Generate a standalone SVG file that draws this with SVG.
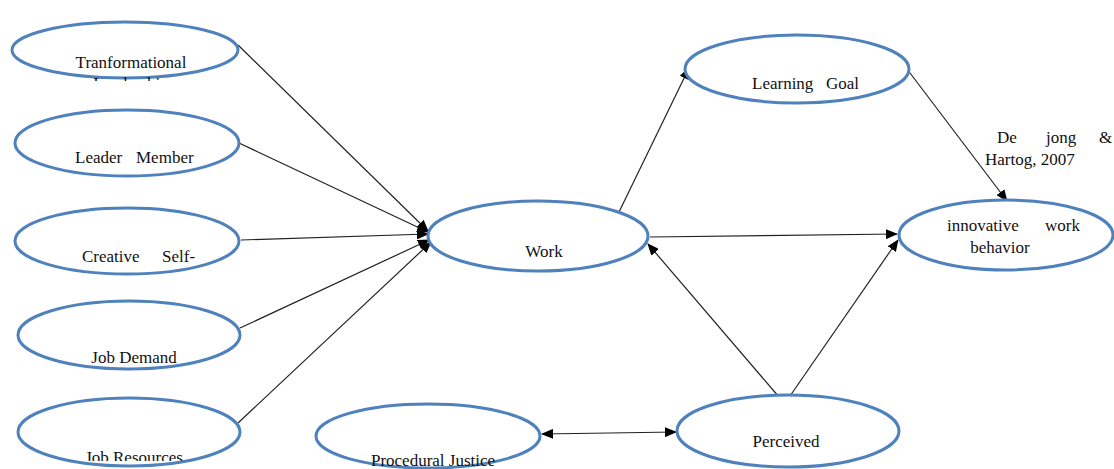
<svg xmlns="http://www.w3.org/2000/svg" width="1114" height="469" viewBox="0 0 1114 469">
<style>
.node ellipse{fill:#fff;stroke:#4F81BD;stroke-width:3}
.t{font-family:"Liberation Serif","Times New Roman",serif;font-size:17px;fill:#111}
.c line{stroke:#222;stroke-width:1.2;fill:none}
</style>
<defs>
<marker id="ah" markerWidth="12" markerHeight="10" refX="11" refY="5" orient="auto" markerUnits="userSpaceOnUse">
<path d="M0,0 L12,5 L0,10 Z" fill="#000"/>
</marker>
<marker id="as" markerWidth="12" markerHeight="10" refX="1" refY="5" orient="auto" markerUnits="userSpaceOnUse">
<path d="M12,0 L0,5 L12,10 Z" fill="#000"/>
</marker>
<clipPath id="clipBottom"><rect x="0" y="0" width="1114" height="461"/></clipPath>
<clipPath id="clipTF"><rect x="0" y="0" width="300" height="81"/></clipPath>
</defs>
<rect width="1114" height="469" fill="#fff"/>
<g class="c" id="connectors">
<line x1="238" y1="45" x2="428" y2="231" marker-end="url(#ah)"/>
<line x1="239" y1="143" x2="428" y2="232" marker-end="url(#ah)"/>
<line x1="241" y1="240" x2="428" y2="234" marker-end="url(#ah)"/>
<line x1="240" y1="328" x2="429" y2="240" marker-end="url(#ah)"/>
<line x1="238" y1="423" x2="431" y2="242" marker-end="url(#ah)"/>
<line x1="619" y1="212" x2="689" y2="68" marker-end="url(#ah)"/>
<line x1="650" y1="237" x2="897" y2="234" marker-end="url(#ah)"/>
<line x1="907" y1="69" x2="1007" y2="201" marker-end="url(#ah)"/>
<line x1="779" y1="397" x2="648" y2="244" marker-end="url(#ah)"/>
<line x1="790" y1="396" x2="898" y2="240" marker-end="url(#ah)"/>
<line x1="542" y1="434" x2="676" y2="432" marker-start="url(#as)" marker-end="url(#ah)"/>
</g>
<g class="node" id="n-tl"><ellipse cx="125" cy="50" rx="113" ry="28"/><g clip-path="url(#clipTF)"><text class="t" x="131" y="68" text-anchor="middle">Tranformational</text><text class="t" x="131" y="89" text-anchor="middle">Leadership</text></g></g>
<g class="node" id="n-lm"><ellipse cx="127" cy="143" rx="112" ry="33"/><text class="t" y="163"><tspan x="75">Leader</tspan><tspan x="136">Member</tspan></text></g>
<g class="node" id="n-cs"><ellipse cx="127" cy="241" rx="112" ry="33"/><text class="t" y="262"><tspan x="82">Creative</tspan><tspan x="162">Self-</tspan></text></g>
<g class="node" id="n-jd"><ellipse cx="129" cy="335" rx="111" ry="34"/><text class="t" x="134" y="363" text-anchor="middle">Job Demand</text></g>
<g class="node" id="n-jr"><ellipse cx="129" cy="432" rx="111" ry="34"/><text class="t" x="134" y="463" text-anchor="middle" clip-path="url(#clipBottom)">Job Resources</text></g>
<g class="node" id="n-pj"><ellipse cx="428" cy="436" rx="112" ry="32"/><text class="t" x="433" y="466" text-anchor="middle">Procedural Justice</text></g>
<g class="node" id="n-work"><ellipse cx="538" cy="236" rx="110" ry="35"/><text class="t" x="544" y="257" text-anchor="middle">Work</text></g>
<g class="node" id="n-lg"><ellipse cx="797" cy="69" rx="112" ry="34"/><text class="t" y="89"><tspan x="752">Learning</tspan><tspan x="826">Goal</tspan></text></g>
<g class="node" id="n-iwb"><ellipse cx="1006" cy="235" rx="107" ry="35"/><text class="t" y="231"><tspan x="947">innovative</tspan><tspan x="1045">work</tspan></text><text class="t" x="1000" y="253" text-anchor="middle">behavior</text></g>
<g class="node" id="n-per"><ellipse cx="788" cy="431" rx="111" ry="36"/><text class="t" x="786" y="447" text-anchor="middle">Perceived</text></g>
<g id="citation"><text class="t" y="143"><tspan x="997">De</tspan><tspan x="1046">jong</tspan><tspan x="1099">&amp;</tspan></text><text class="t" x="985" y="165">Hartog, 2007</text></g>
</svg>
